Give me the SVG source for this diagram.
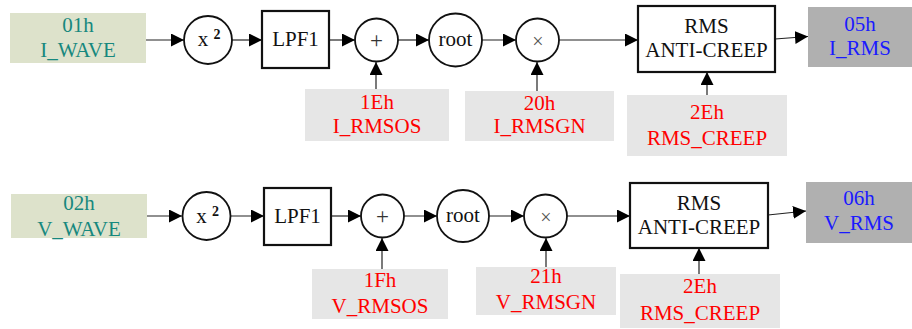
<svg xmlns="http://www.w3.org/2000/svg" width="912" height="329" viewBox="0 0 912 329">
<style>
text{font-family:"Liberation Serif","Times New Roman",serif;font-size:21px;text-anchor:middle}
.in{fill:#dde2cb}.reg{fill:#e6e6e6}.out{fill:#b0b0b0}
.tt{fill:#17887e}.tr{fill:#ff0000}.tb{fill:#1a1aff}.tk{fill:#111}
.op{fill:#fff;stroke:#111;stroke-width:1.8}
.blk{fill:#fff;stroke:#111;stroke-width:2.2}
.c{stroke:#222;stroke-width:1.2;fill:none;marker-end:url(#ah)}
.sym{font-size:23px;fill:#333}
.sup{font-size:14px;font-weight:bold}
</style>
<defs>
<marker id="ah" markerUnits="userSpaceOnUse" markerWidth="14" markerHeight="14" refX="13" refY="6.5" orient="auto">
<path d="M0,0 L13,6.5 L0,13 Z" fill="#000"/>
</marker>
</defs>
<g id="connectors">
<path class="c" d="M146,40 H184"/>
<path class="c" d="M232,40 H262"/>
<path class="c" d="M329,40 H355"/>
<path class="c" d="M398,40 H429"/>
<path class="c" d="M482,40 H516"/>
<path class="c" d="M559,40 H638"/>
<path class="c" d="M775,39 L808,36.5"/>
<path class="c" d="M376,89 V62"/>
<path class="c" d="M537,91 V62"/>
<path class="c" d="M707,95 V72"/>
<path class="c" d="M147,216 H182"/>
<path class="c" d="M231,216 H264"/>
<path class="c" d="M331,216 H361"/>
<path class="c" d="M404,216 H437"/>
<path class="c" d="M489,216 H524"/>
<path class="c" d="M567,216 H630"/>
<path class="c" d="M768,215 L806,211"/>
<path class="c" d="M382,269 V238"/>
<path class="c" d="M546,267 V238"/>
<path class="c" d="M699,274 V248"/>
</g>
<g id="i_wave"><rect class="in" x="10" y="13" width="136" height="50"/><text class="tt" x="78" y="32">01h</text><text class="tt" x="78" y="57">I_WAVE</text></g>
<g id="sq1"><circle class="op" cx="208" cy="40" r="24"/><text class="tk" x="209" y="46">x <tspan class="sup" dy="-7">2</tspan></text></g>
<g id="lpf1"><rect class="blk" x="262" y="11" width="67" height="57"/><text class="tk" x="295.5" y="46">LPF1</text></g>
<g id="add1"><circle class="op" cx="376.5" cy="40" r="21.5"/><text class="sym" x="376.5" y="48">+</text></g>
<g id="root1"><circle class="op" cx="455.5" cy="40" r="26.5"/><text class="tk" x="455.5" y="46">root</text></g>
<g id="mul1"><circle class="op" cx="537.5" cy="40" r="21.5"/><text class="sym" x="538" y="48" style="fill:#555;font-size:20px">×</text></g>
<g id="creep1"><rect class="blk" x="638" y="6" width="137" height="66"/><text class="tk" x="706.5" y="33">RMS</text><text class="tk" x="706.5" y="57">ANTI-CREEP</text></g>
<g id="i_rms"><rect class="out" x="808" y="7" width="104" height="60"/><text class="tb" x="860" y="31">05h</text><text class="tb" x="860" y="55">I_RMS</text></g>
<g id="i_rmsos"><rect class="reg" x="305" y="89" width="144" height="52"/><text class="tr" x="377" y="109">1Eh</text><text class="tr" x="377" y="133">I_RMSOS</text></g>
<g id="i_rmsgn"><rect class="reg" x="465" y="91" width="149" height="50"/><text class="tr" x="539.5" y="110">20h</text><text class="tr" x="539.5" y="133">I_RMSGN</text></g>
<g id="creep_a"><rect class="reg" x="627" y="95" width="160" height="61"/><text class="tr" x="707" y="119">2Eh</text><text class="tr" x="707" y="145">RMS_CREEP</text></g>
<g id="v_wave"><rect class="in" x="11" y="194" width="136" height="44"/><text class="tt" x="79" y="210">02h</text><text class="tt" x="79" y="236">V_WAVE</text></g>
<g id="sq2"><circle class="op" cx="206.5" cy="216" r="24"/><text class="tk" x="207.5" y="223">x <tspan class="sup" dy="-7">2</tspan></text></g>
<g id="lpf2"><rect class="blk" x="264" y="188" width="67" height="57"/><text class="tk" x="297.5" y="223">LPF1</text></g>
<g id="add2"><circle class="op" cx="382.5" cy="216" r="21.5"/><text class="sym" x="382.5" y="224">+</text></g>
<g id="root2"><circle class="op" cx="463" cy="216" r="26"/><text class="tk" x="463" y="222">root</text></g>
<g id="mul2"><circle class="op" cx="545.5" cy="216" r="21.5"/><text class="sym" x="546" y="224" style="fill:#555;font-size:20px">×</text></g>
<g id="creep2"><rect class="blk" x="630" y="183" width="138" height="65"/><text class="tk" x="699" y="210">RMS</text><text class="tk" x="699" y="234">ANTI-CREEP</text></g>
<g id="v_rms"><rect class="out" x="806" y="182" width="106" height="61"/><text class="tb" x="859" y="205">06h</text><text class="tb" x="859" y="230">V_RMS</text></g>
<g id="v_rmsos"><rect class="reg" x="312" y="269" width="136" height="50"/><text class="tr" x="380" y="287">1Fh</text><text class="tr" x="380" y="313">V_RMSOS</text></g>
<g id="v_rmsgn"><rect class="reg" x="476" y="267" width="140" height="48"/><text class="tr" x="546" y="283">21h</text><text class="tr" x="546" y="309">V_RMSGN</text></g>
<g id="creep_b"><rect class="reg" x="620" y="274" width="160" height="54"/><text class="tr" x="700" y="293">2Eh</text><text class="tr" x="700" y="320">RMS_CREEP</text></g>
</svg>
